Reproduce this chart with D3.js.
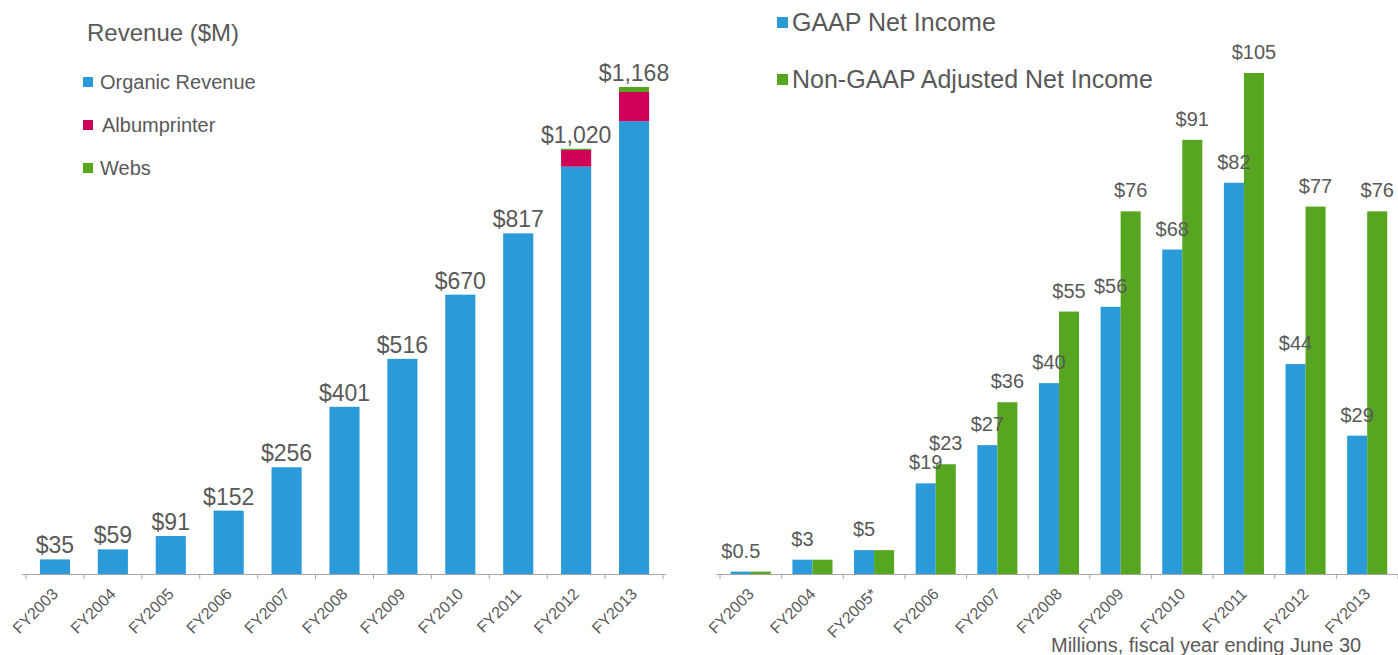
<!DOCTYPE html>
<html lang="en">
<head>
<meta charset="UTF-8">
<title>Revenue and Net Income</title>
<style>
  html, body { margin: 0; background: #fff; }
  text { font-family: 'Liberation Sans', Arial, sans-serif; fill: #595959; }
  .axis line, .axis path { stroke: #a6a6a6; }
</style>
</head>
<body>
<svg width="1398" height="655"></svg>
<script src="https://d3js.org/d3.v7.min.js"></script>
<script>

// ---- data ----
const years = ["FY2003", "FY2004", "FY2005", "FY2006", "FY2007", "FY2008",
               "FY2009", "FY2010", "FY2011", "FY2012", "FY2013"];
const organic = [35, 59, 91, 152, 256, 401, 516, 670, 817, 977, 1086];
const albumprinter = [0, 0, 0, 0, 0, 0, 0, 0, 0, 40, 70];
const webs = [0, 0, 0, 0, 0, 0, 0, 0, 0, 3, 12];
const revenueLabels = ["$35", "$59", "$91", "$152", "$256", "$401", "$516", "$670", "$817", "$1,020", "$1,168"];

const incomeYears = ["FY2003", "FY2004", "FY2005*", "FY2006", "FY2007", "FY2008",
                     "FY2009", "FY2010", "FY2011", "FY2012", "FY2013"];
const gaap = [0.5, 3, 5, 19, 27, 40, 56, 68, 82, 44, 29];
const nonGaap = [0.5, 3, 5, 23, 36, 55, 76, 91, 105, 77, 76];
const gaapLabels = ["$0.5", "$3", "$5", "$19", "$27", "$40", "$56", "$68", "$82", "$44", "$29"];
const nonGaapLabels = [null, null, null, "$23", "$36", "$55", "$76", "$91", "$105", "$77", "$76"];

const BLUE = "#2b9ad9", RED = "#cf0057", GREEN = "#56a622";

const svg = d3.select("svg");

// ================= left: revenue =================
const base = 574;
const x = d3.scaleBand().domain(years).range([26, 663]).paddingInner(0.48).paddingOuter(0.24);
const totals = years.map((d, i) => organic[i] + albumprinter[i] + webs[i]);
const y = d3.scaleLinear().domain([0, d3.max(totals)]).range([base, 87]);

const stackData = years.map((d, i) => ({year: d, organic: organic[i], albumprinter: albumprinter[i], webs: webs[i]}));
const stack = d3.stack().keys(["organic", "albumprinter", "webs"])(stackData);
const colorL = d3.scaleOrdinal().domain(["organic", "albumprinter", "webs"]).range([BLUE, RED, GREEN]);

svg.append("g").selectAll("g")
  .data(stack)
  .join("g")
    .attr("fill", d => colorL(d.key))
  .selectAll("rect")
  .data(d => d)
  .join("rect")
    .attr("x", d => x(d.data.year))
    .attr("width", x.bandwidth())
    .attr("y", d => y(d[1]))
    .attr("height", d => y(d[0]) - y(d[1]));

svg.append("g").selectAll("text")
  .data(years)
  .join("text")
    .attr("x", d => x(d) + x.bandwidth() / 2)
    .attr("y", (d, i) => y(totals[i]) - 6)
    .attr("text-anchor", "middle")
    .style("font-size", "23px")
    .text((d, i) => revenueLabels[i]);

function drawAxis(scale, labels, xr) {
  const g = svg.append("g").attr("class", "axis");
  g.append("line")
    .attr("x1", xr[0]).attr("x2", xr[1])
    .attr("y1", base + 0.5).attr("y2", base + 0.5);
  const r = scale.range(), step = scale.step();
  g.selectAll(".tk")
    .data(d3.range(labels.length + 1))
    .join("line")
      .attr("class", "tk")
      .attr("x1", i => r[0] + i * step).attr("x2", i => r[0] + i * step)
      .attr("y1", base).attr("y2", base + 5);
  g.selectAll("text")
    .data(labels)
    .join("text")
      .attr("text-anchor", "end")
      .attr("transform", d => "translate(" + (scale(d) + scale.bandwidth() / 2 + 4) + "," + (base + 21) + ") rotate(-45)")
      .style("font-size", "16px")
      .text(d => d);
}
drawAxis(x, years, [22, 666]);

// legend left
svg.append("text").attr("x", 87).attr("y", 41).style("font-size", "24px").text("Revenue ($M)");
const legL = [["Organic Revenue", BLUE, 0], ["Albumprinter", RED, 2], ["Webs", GREEN, 0]];
const lg = svg.append("g").selectAll("g").data(legL).join("g")
  .attr("transform", (d, i) => "translate(83," + (77 + i * 43) + ")");
lg.append("rect").attr("width", 10).attr("height", 10).attr("fill", d => d[1]);
lg.append("text").attr("x", d => 17 + d[2]).attr("y", 12).style("font-size", "20px").text(d => d[0]);

// ================= right: net income =================
const x2 = d3.scaleBand().domain(incomeYears).range([720, 1398]).paddingInner(0.35).paddingOuter(0.175);
const xs = d3.scaleBand().domain(["gaap", "nonGaap"]).range([0, x2.bandwidth()]);
const y2 = d3.scaleLinear().domain([0, d3.max(nonGaap)]).range([base, 73]);

const incomeData = incomeYears.map((d, i) => ({year: d, gaap: gaap[i], nonGaap: nonGaap[i],
  gl: gaapLabels[i], nl: nonGaapLabels[i]}));

const grp = svg.append("g").selectAll("g")
  .data(incomeData)
  .join("g")
    .attr("transform", d => "translate(" + x2(d.year) + ",0)");

grp.append("rect")
  .attr("x", xs("gaap")).attr("width", xs.bandwidth())
  .attr("y", d => y2(d.gaap)).attr("height", d => base - y2(d.gaap))
  .attr("fill", BLUE);
grp.append("rect")
  .attr("x", xs("nonGaap")).attr("width", xs.bandwidth())
  .attr("y", d => y2(d.nonGaap)).attr("height", d => base - y2(d.nonGaap))
  .attr("fill", GREEN);

grp.append("text")
  .attr("x", xs("gaap") + xs.bandwidth() / 2)
  .attr("y", d => y2(d.gaap) - 14)
  .attr("text-anchor", "middle")
  .style("font-size", "20px")
  .text(d => d.gl);
grp.filter(d => d.nl).append("text")
  .attr("x", xs("nonGaap") + xs.bandwidth() / 2)
  .attr("y", d => y2(d.nonGaap) - 14)
  .attr("text-anchor", "middle")
  .style("font-size", "20px")
  .text(d => d.nl);

drawAxis(x2, incomeYears, [716, 1398]);

// legend right
const legR = [["GAAP Net Income", BLUE], ["Non-GAAP Adjusted Net Income", GREEN]];
const lr = svg.append("g").selectAll("g").data(legR).join("g")
  .attr("transform", (d, i) => "translate(777," + (17 + i * 57) + ")");
lr.append("rect").attr("width", 11).attr("height", 11).attr("fill", d => d[1]);
lr.append("text").attr("x", 15).attr("y", 14).style("font-size", "25px").text(d => d[0]);

svg.append("text").attr("x", 1051).attr("y", 652).style("font-size", "20px")
  .text("Millions, fiscal year ending June 30");

</script>
</body>
</html>
